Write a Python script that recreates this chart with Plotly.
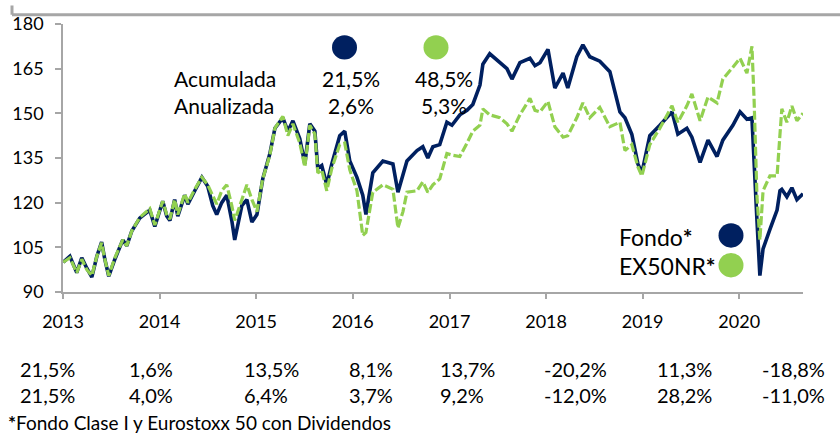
import plotly.graph_objects as go

dates = [
    "2013-01-02", "2013-01-27", "2013-02-22", "2013-03-13", "2013-04-01", "2013-04-20",
    "2013-05-09", "2013-05-27", "2013-06-08", "2013-06-23", "2013-07-16", "2013-08-15",
    "2013-08-30", "2013-09-18", "2013-10-18", "2013-11-10", "2013-11-25", "2013-12-14",
    "2014-01-02", "2014-01-13", "2014-01-28", "2014-02-09", "2014-02-27", "2014-03-11",
    "2014-04-06", "2014-04-18", "2014-05-14", "2014-06-10", "2014-07-02", "2014-07-21",
    "2014-08-05", "2014-08-24", "2014-09-12", "2014-10-01", "2014-10-12", "2014-11-08",
    "2014-11-27", "2014-12-16", "2015-01-04", "2015-01-26", "2015-02-22", "2015-03-13",
    "2015-04-12", "2015-05-01", "2015-05-20", "2015-06-15", "2015-07-04", "2015-07-23",
    "2015-08-11", "2015-08-22", "2015-09-06", "2015-09-25", "2015-10-14", "2015-11-13",
    "2015-12-02", "2015-12-21", "2016-01-17", "2016-02-08", "2016-02-20", "2016-03-17",
    "2016-04-24", "2016-06-01", "2016-06-20", "2016-07-09", "2016-07-24", "2016-08-31",
    "2016-09-22", "2016-10-11", "2016-10-30", "2016-11-25", "2016-12-22", "2017-01-10",
    "2017-02-09", "2017-03-08", "2017-03-30", "2017-04-26", "2017-05-07", "2017-06-02",
    "2017-07-10", "2017-08-06", "2017-08-25", "2017-09-24", "2017-11-01", "2017-11-20",
    "2017-12-09", "2018-01-08", "2018-02-03", "2018-03-06", "2018-03-24", "2018-04-27",
    "2018-05-20", "2018-06-15", "2018-07-23", "2018-08-30", "2018-10-07", "2018-10-26",
    "2018-11-21", "2018-12-14", "2018-12-29", "2019-01-28", "2019-03-07", "2019-04-22",
    "2019-05-14", "2019-06-17", "2019-07-06", "2019-08-06", "2019-09-05", "2019-10-09",
    "2019-10-31", "2019-12-08", "2020-01-04", "2020-01-30", "2020-02-18", "2020-02-26",
    "2020-03-08", "2020-03-19", "2020-03-31", "2020-04-26", "2020-05-23", "2020-06-03",
    "2020-06-10", "2020-06-29", "2020-07-18", "2020-08-06", "2020-08-29",
]

fondo = [
    100, 102, 96.5, 101.5, 98, 95,
    102, 106.8, 101, 95.3, 101, 107.5,
    105.5, 110.5, 114.8, 116.5, 117.5, 112,
    117, 120.5, 115.5, 114, 121, 115.5,
    122.5, 119.5, 124, 128.5, 125.5, 119,
    116, 120, 122.5, 114, 107.5, 119,
    121, 113.5, 116, 128, 136.5, 145,
    148.5, 144, 147.5, 141.5, 133, 146.5,
    144, 131.5, 132.5, 126, 133, 142.5,
    144, 134, 128.5, 122.5, 116, 130,
    134, 133, 123.5, 130, 134, 137.5,
    138.8, 135, 138.8, 139.5, 147, 146,
    149.5, 151, 153, 159.5, 166.5, 170,
    167, 165, 161.5, 167, 168.5, 166,
    167, 171.5, 158.5, 163.5, 158.5, 169,
    173, 169, 167.5, 164, 150.5, 148.5,
    143, 133, 130, 142.5, 146, 150.5,
    143, 145, 142, 133.5, 141, 135.5,
    141, 146, 150.5, 148, 148.5, 136,
    114, 95.5, 104.5, 111, 117.5, 124,
    124.5, 122, 125, 121, 123,
]

ex50nr = [
    100, 101.5, 96.5, 101, 97.5, 95.5,
    102, 106.5, 101, 95.5, 101.5, 107.5,
    105.5, 110.5, 115, 117, 118, 112.5,
    117.5, 120.5, 116, 114.5, 121, 116,
    123, 120, 124.5, 128.5, 126, 122,
    119.5, 124, 126, 119, 114, 121,
    126, 121, 117, 128, 136, 145,
    149, 142.5, 146.5, 140, 132, 146,
    143, 130, 131, 124, 131.5, 139.5,
    140, 131, 124, 109, 110, 123.5,
    126, 124.5, 111.5, 117, 123.5, 124,
    127, 123.5, 126, 128, 136.5, 136,
    135.5, 140, 144, 146, 151.5, 149.5,
    148.5, 146.5, 144, 149.5, 155, 151,
    150.5, 154, 145.5, 142, 142.5, 148.5,
    153.5, 148.5, 152, 145.5, 147, 137.5,
    139.5, 132, 129, 139.5, 145, 152.5,
    147, 152.5, 156.5, 147.5, 155.5, 153.5,
    161.5, 165.5, 168.5, 163.5, 172.5, 155,
    122, 107.5, 124, 129, 129, 143,
    151.5, 147, 152.5, 147.5, 150,
]

year_ticks = ["2013-01-01", "2014-01-01", "2015-01-01", "2016-01-01",
              "2017-01-01", "2018-01-01", "2019-01-01", "2020-01-01"]
year_labels = ["2013", "2014", "2015", "2016", "2017", "2018", "2019", "2020"]
y_ticks = [90, 105, 120, 135, 150, 165, 180]

summary_rows = ["Acumulada", "Anualizada"]
fondo_summary = ["21,5%", "2,6%"]
ex50_summary = ["48,5%", "5,3%"]

annual_fondo = ["21,5%", "1,6%", "13,5%", "8,1%", "13,7%", "-20,2%", "11,3%", "-18,8%"]
annual_ex50 = ["21,5%", "4,0%", "6,4%", "3,7%", "9,2%", "-12,0%", "28,2%", "-11,0%"]

NAVY = "#002060"
GREEN = "#92D050"
GREY = "#A6A6A6"
FONT = "Lato"

W, H = 840, 444
L, R, T, B = 63, 803, 17, 292  # plot area in pixels


def px(x):
    return (x - L) / (R - L)


def py(y):
    return (B - y) / (B - T)


fig = go.Figure()
fig.add_trace(go.Scatter(x=dates, y=fondo, mode="lines",
                         line=dict(color=NAVY, width=3.6), name="Fondo*"))
fig.add_trace(go.Scatter(x=dates, y=ex50nr, mode="lines",
                         line=dict(color=GREEN, width=3.2, dash="9px,3px"), name="EX50NR*"))

fig.update_layout(
    width=W, height=H,
    margin=dict(l=L, r=W - R, t=T, b=H - B),
    paper_bgcolor="white", plot_bgcolor="white",
    showlegend=False,
    font=dict(family=FONT, color="black", size=18),
    xaxis=dict(range=["2013-01-01", "2020-08-29"], tickvals=year_ticks, ticktext=year_labels,
               showgrid=False, zeroline=False, showline=True, linecolor=GREY, linewidth=1.5,
               ticks="outside", ticklen=5, tickcolor=GREY, tickwidth=1.5,
               tickfont=dict(size=18, family=FONT), ticklabelstandoff=8),
    yaxis=dict(range=[90, 180], tickvals=y_ticks,
               showgrid=False, zeroline=False, showline=True, linecolor=GREY, linewidth=1.5,
               ticks="outside", ticklen=6, tickcolor=GREY, tickwidth=1.5,
               tickfont=dict(size=18, family=FONT), ticklabelstandoff=8),
)

shapes = []
# top frame remnant
shapes.append(dict(type="line", xref="paper", yref="paper", x0=px(12), x1=px(840),
                   y0=py(7.5), y1=py(7.5), line=dict(color=GREY, width=3)))
shapes.append(dict(type="line", xref="paper", yref="paper", x0=px(12), x1=px(12),
                   y0=py(-2), y1=py(7.5), line=dict(color=GREY, width=3)))


def circle(cx, cy, r, color):
    return dict(type="circle", xref="paper", yref="paper",
                x0=px(cx - r), x1=px(cx + r), y0=py(cy + r), y1=py(cy - r),
                fillcolor=color, line=dict(width=0))


shapes.append(circle(344.5, 41, 12.5, NAVY))
shapes.append(circle(436, 41, 12.5, GREEN))
shapes.append(circle(731, 234, 12.5, NAVY))
shapes.append(circle(731, 264.5, 12.5, GREEN))
fig.update_layout(shapes=shapes)

ann = []


def text(x, y, s, size, anchor="left"):
    ann.append(dict(xref="paper", yref="paper", x=px(x), y=py(y), text=s, showarrow=False,
                    xanchor=anchor, yanchor="middle", align=anchor,
                    font=dict(size=size, family=FONT, color="black")))


# summary block (two lines in one text each)
text(172, 86.5, "<br>".join(summary_rows), 21)
text(351, 86.5, "<br>".join(fondo_summary), 21, "center")
text(444, 86.5, "<br>".join(ex50_summary), 21, "center")

text(617, 236, "Fondo<b>*</b>", 23)
text(617, 265.5, "EX50NR<b>*</b>", 23)

col_x = [18, 127, 242, 347, 438, 542, 655, 760]
for cx, a, b in zip(col_x, annual_fondo, annual_ex50):
    text(cx, 384.5, a + "<br>" + b, 20)

text(6, 426, "<b>*</b>Fondo Clase I y Eurostoxx 50 con Dividendos", 19)

fig.update_layout(annotations=ann)

fig.write_html("out.html")
